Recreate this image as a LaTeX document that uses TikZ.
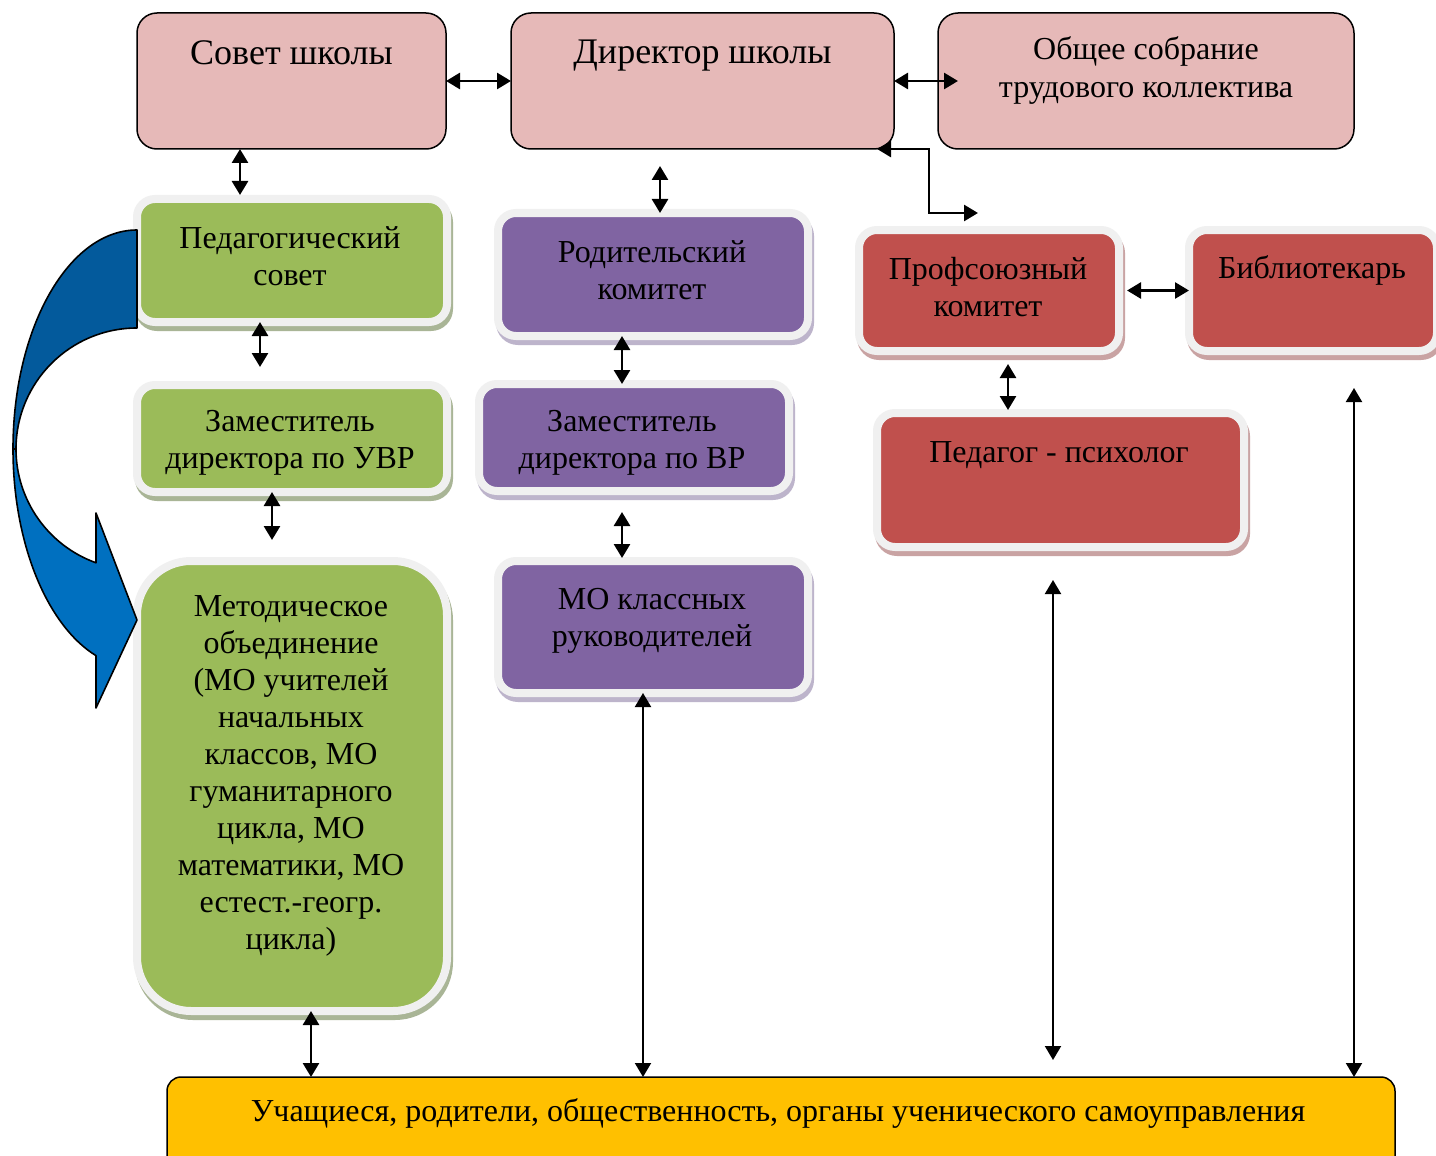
\documentclass[tikz,border=0pt]{standalone}
\usepackage{fontspec}
\setmainfont{Liberation Serif}
\usetikzlibrary{arrows.meta}
\definecolor{pinkc}{HTML}{E6B9B8}
\definecolor{greenc}{HTML}{9BBB59}
\definecolor{purplec}{HTML}{8064A2}
\definecolor{redc}{HTML}{C0504D}
\definecolor{yellowc}{HTML}{FFC000}
\definecolor{blueL}{HTML}{0070C0}
\definecolor{blueD}{HTML}{035A9C}
\definecolor{rimc}{HTML}{F0F0F0}
\definecolor{shG}{HTML}{A9B596}
\definecolor{shP}{HTML}{BDB4CB}
\definecolor{shR}{HTML}{C9A3A3}
\tikzset{
  topbox/.style={draw=black, line width=0.75pt, fill=pinkc, rounded corners=10pt,
    minimum height=68pt, inner sep=0pt, outer sep=0pt},
  rimbox/.style={draw=rimc, line width=4pt, rounded corners=9pt, inner sep=0pt, outer sep=0pt,
    preaction={draw=#1, fill=#1, line width=4pt, transform canvas={xshift=1pt,yshift=-2.5pt}}},
  gbox/.style={rimbox=shG, fill=greenc},
  pbox/.style={rimbox=shP, fill=purplec},
  rbox/.style={rimbox=shR, fill=redc},
  ybox/.style={draw=black, line width=0.75pt, fill=yellowc, rounded corners=7pt, inner sep=0pt, outer sep=0pt},
  txt/.style={align=center, inner sep=0pt, font=\fontsize{16}{18.5}\selectfont},
  bigtxt/.style={align=center, inner sep=0pt, font=\fontsize{18}{21}\selectfont},
  tip/.tip={Triangle[length=7pt,width=8pt]},
  dar/.style={{tip}-{tip}, line width=1.3pt},
  tar/.style={{tip}-{tip}, line width=1pt},
  bandL/.style={fill=blueL, draw=black, line width=0.8pt, line join=round},
  bandD/.style={fill=blueD, draw=black, line width=0.8pt, line join=round}
}
\begin{document}
\begin{tikzpicture}[x=0.5pt, y=-0.5pt]
\clip (0,0) rectangle (1436,1156);
\fill[white] (0,0) rectangle (1436,1156);

% top row
\node[topbox, minimum width=154.5pt] (sovet) at (291.5,81) {};
\node[topbox, minimum width=191.5pt] (dir) at (702.5,81) {};
\node[topbox, minimum width=208pt] (obsh) at (1146,81) {};
\node[bigtxt] (sovet-t) at (291.5,53) {Совет школы};
\node[bigtxt] (dir-t) at (702.5,56) {Директор школы};
\node[txt, font=\fontsize{16}{19.5}\selectfont] (obsh-t) at (1146,70.5) {Общее собрание\\трудового коллектива};

% green column
\node[gbox, minimum width=155pt, minimum height=61.5pt] (ped) at (292,260.5) {};
\node[gbox, minimum width=155pt, minimum height=53.5pt] (uvr) at (292,438.5) {};
\node[gbox, rounded corners=27pt, minimum width=155pt, minimum height=225pt] (met) at (292,786) {};
\node[txt] (ped-t) at (290,256) {Педагогический\\совет};
\node[txt] (uvr-t) at (290,443) {Заместитель\\директора по УВР};
\node[txt] (met-t) at (291,775.5) {Методическое\\объединение\\(МО учителей\\начальных\\классов, МО\\гуманитарного\\цикла, МО\\математики, МО\\естест.-геогр.\\цикла)};

% purple column
\node[pbox, minimum width=155pt, minimum height=61.5pt] (rod) at (653,274.5) {};
\node[pbox, minimum width=155pt, minimum height=53.5pt] (vr) at (634,437.5) {};
\node[pbox, minimum width=155pt, minimum height=66pt] (mo) at (653,627) {};
\node[txt] (rod-t) at (652,270) {Родительский\\комитет};
\node[txt] (vr-t) at (632,443) {Заместитель\\директора по ВР};
\node[txt] (mo-t) at (652,620.5) {МО классных\\руководителей};

% red group
\node[rbox, minimum width=130pt, minimum height=60.5pt] (prof) at (989,290.5) {};
\node[rbox, minimum width=124pt, minimum height=60.5pt] (bib) at (1313,290.5) {};
\node[rbox, minimum width=183.5pt, minimum height=67pt] (psy) at (1060.5,480) {};
\node[txt] (prof-t) at (988,287) {Профсоюзный\\комитет};
\node[txt] (bib-t) at (1312,270) {Библиотекарь};
\node[txt] (psy-t) at (1059,455) {Педагог - психолог};

% bottom
\node[ybox, minimum width=614pt, minimum height=51.5pt] (uch) at (781,1128.5) {};
\node[txt] (uch-t) at (778,1113) {Учащиеся, родители, общественность, органы ученического самоуправления};

% connectors
\coordinate (elb) at (978,213);
\draw[dar] (sovet.east) -- (dir.west);
\draw[dar] (dir.east) -- ([xshift=10pt]obsh.west);
\draw[dar, shorten >=2pt] (sovet.south -| 240,0) -- (ped.north -| 240,0);
\draw[dar, shorten <=8.5pt] (dir.south -| 660,0) -- (rod.north -| 660,0);
\draw[dar] ([xshift=-8.5pt]dir.south east) -- ++(26pt,0) |- (elb);
\draw[dar, shorten >=9pt] (ped.south -| 260,0) -- (uvr.north -| 260,0);
\draw[dar] (rod.south -| 622,0) -- (vr.north -| 622,0);
\draw[dar, shorten <=4pt] (prof.east) -- (bib.west);
\draw[dar, shorten <=6.5pt, shorten >=1.5pt] (prof.south -| 1008,0) -- (psy.north -| 1008,0);
\draw[dar, shorten >=10.5pt] (uvr.south -| 272,0) -- (met.north -| 272,0);
\draw[dar, shorten <=10.5pt, shorten >=1.5pt] (vr.south -| 622,0) -- (mo.north -| 622,0);
\draw[dar] (met.south -| 311,0) -- (uch.north -| 311,0);
\draw[tar] (mo.south -| 643,0) -- (uch.north -| 643,0);
\draw[tar, shorten <=16.5pt, shorten >=8.5pt] (psy.south -| 1053,0) -- (uch.north -| 1053,0);
\draw[tar, shorten <=18.5pt] (bib.south -| 1354,0) -- (uch.north -| 1354,0);

% curved blue arrow (Пед. совет -> Методическое объединение)
\draw[bandD] (137,230) arc[start angle=270, end angle=180, x radius=124, y radius=219]
  -- (16,449) arc[start angle=180, end angle=270, x radius=121, y radius=121] -- cycle;
\draw[bandL] (13,449) arc[start angle=180, end angle=109.3, x radius=124, y radius=219]
  -- (96,708) -- (137,620) -- (96,513) -- (96,562.8)
  arc[start angle=109.8, end angle=180, x radius=121, y radius=121] -- cycle;
\end{tikzpicture}
\end{document}
